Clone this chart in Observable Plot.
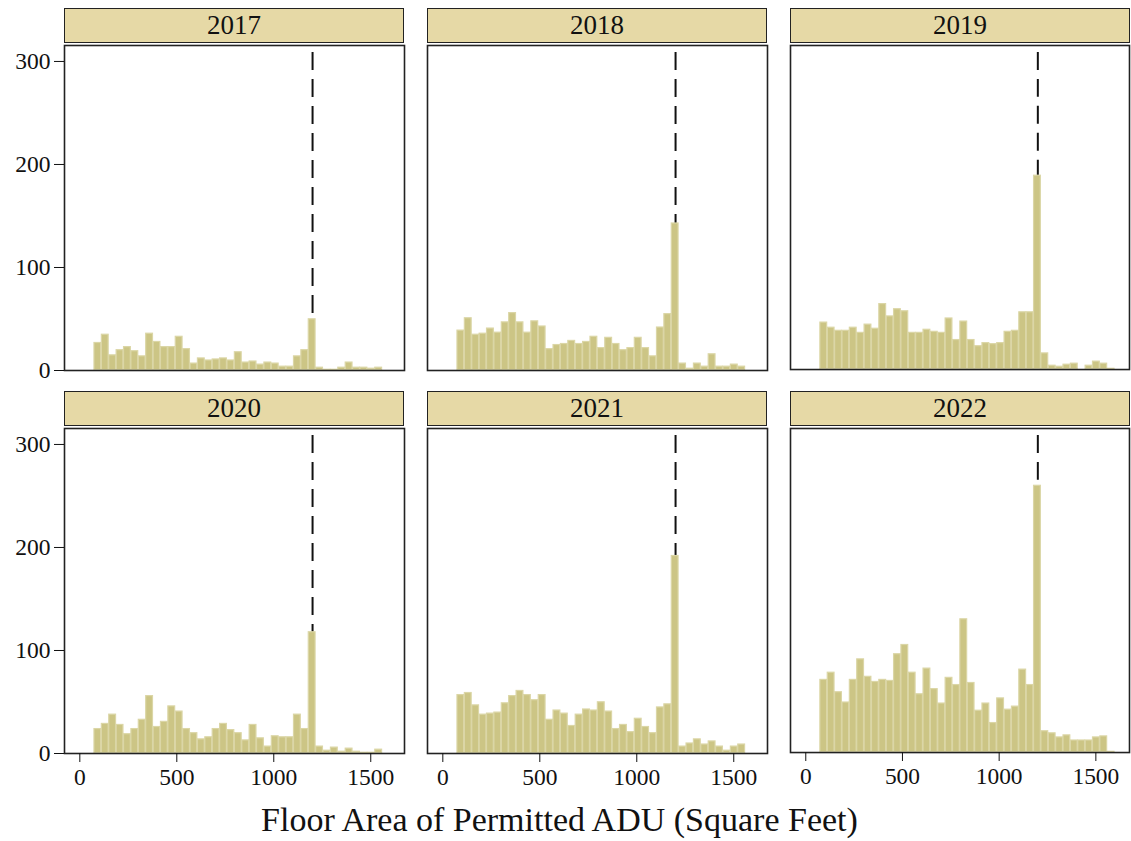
<!DOCTYPE html>
<html>
<head>
<meta charset="utf-8">
<script src="https://cdn.jsdelivr.net/npm/d3@7"></script>
<script src="https://cdn.jsdelivr.net/npm/@observablehq/plot@0.6"></script>
<style>
  html, body { margin: 0; padding: 0; background: #fff; }
  #root { position: relative; width: 1131px; height: 841px; font-family: "Liberation Serif", serif; }
  .strip { position: absolute; box-sizing: border-box; border: 1.5px solid #222; background: #e6d9a6;
           text-align: center; font-size: 27px; color: #111; line-height: 32px; }
  .panel { position: absolute; }
  #xtitle { position: absolute; left: -6px; width: 1131px; top: 801px; text-align: center; font-size: 34px; color: #111; }
</style>
</head>
<body>
<div id="root"><div id="xtitle">Floor Area of Permitted ADU (Square Feet)</div></div>
<script>
const years = ["2017", "2018", "2019", "2020", "2021", "2022"];
const binStart = 74;
const binWidth = 38.1;
const threshold = 1200;
const xTicks = [0, 500, 1000, 1500];
const yTicks = [0, 100, 200, 300];

const counts2017 = [27,35,15,20,23,19,14,36,28,23,23,33,21,7,12,10,11,12,10,18,8,9,6,8,7,4,4,14,20,50,3,1,1,3,8,3,3,2,3,0];
const counts2018 = [39,51,35,36,41,37,47,56,47,37,48,43,21,25,26,29,26,28,33,22,32,26,20,22,32,22,14,42,55,143,7,2,7,4,16,4,4,6,4,0];
const counts2019 = [46,41,38,38,41,36,44,40,64,52,59,57,36,36,39,37,36,50,29,47,29,23,26,25,26,37,38,56,56,189,16,4,3,5,6,0,4,8,6,1];
const counts2020 = [24,29,38,28,19,24,33,56,26,31,46,41,24,20,14,16,24,29,23,20,13,28,15,7,17,16,16,38,24,118,7,3,6,2,5,2,1,1,4,0];
const counts2021 = [57,59,47,38,39,40,49,56,61,57,52,57,33,42,39,27,38,43,42,50,41,24,28,21,34,26,20,45,48,192,7,10,14,9,12,7,3,7,9,0];
const counts2022 = [71,78,59,49,71,91,74,69,71,70,96,105,78,57,82,62,48,73,66,130,68,41,48,29,53,42,45,81,66,260,21,19,15,17,12,12,12,15,16,1];
const allCounts = [counts2017, counts2018, counts2019, counts2020, counts2021, counts2022];

const panelLefts = [64, 427, 790];
const stripTops = [8, 391];
const plotTops = [45, 428];
const panelW = 340, panelH = 325;
const font = "Liberation Serif";

const root = document.getElementById("root");

years.forEach((yr, i) => {
  const col = i % 3, row = Math.floor(i / 3);
  const counts = allCounts[i];
  const bins = counts.map((c, k) => ({x1: binStart + k * binWidth, x2: binStart + (k + 1) * binWidth, n: c}))
                     .filter(d => d.n > 0);

  const strip = document.createElement("div");
  strip.className = "strip";
  strip.style.left = panelLefts[col] + "px";
  strip.style.top = stripTops[row] + "px";
  strip.style.width = panelW + "px";
  strip.style.height = "35px";
  strip.textContent = yr;
  root.appendChild(strip);

  const mL = col === 0 ? 64 : 2, mR = 2, mT = 2, mB = row === 1 ? 50 : 2;
  const marks = [
    Plot.ruleX([threshold], {x: d => d, y1: 308.7, y2: 0, stroke: "#111", strokeWidth: 2, strokeDasharray: "18,9"}),
    Plot.rectY(bins, {x1: "x1", x2: "x2", y1: 0, y2: "n", fill: "#ccc585", stroke: "#dbd6a6", strokeWidth: 1.2, inset: 0.3}),
    Plot.frame({stroke: "#222", strokeWidth: 1.6})
  ];
  if (col === 0) marks.push(Plot.axisY({ticks: yTicks, tickSize: 10, tickPadding: 4, label: null, fontSize: 23.5, tickFormat: d => String(d)}));
  if (row === 1) marks.push(Plot.axisX({ticks: xTicks, tickSize: 9, tickPadding: 6, label: null, fontSize: 23.5, tickFormat: d => String(d)}));

  const chart = Plot.plot({
    width: panelW + mL + mR,
    height: panelH + mT + mB,
    marginLeft: mL, marginRight: mR, marginTop: mT, marginBottom: mB,
    style: {fontFamily: font, fontSize: "23.5px", color: "#111", background: "transparent", overflow: "visible"},
    x: {domain: [-79, 1674], axis: null},
    y: {domain: [0, 315.5], axis: null},
    marks
  });
  const wrap = document.createElement("div");
  wrap.className = "panel";
  wrap.style.left = (panelLefts[col] - mL) + "px";
  wrap.style.top = (plotTops[row] - mT) + "px";
  wrap.appendChild(chart);
  root.appendChild(wrap);
});
</script>
</body>
</html>
